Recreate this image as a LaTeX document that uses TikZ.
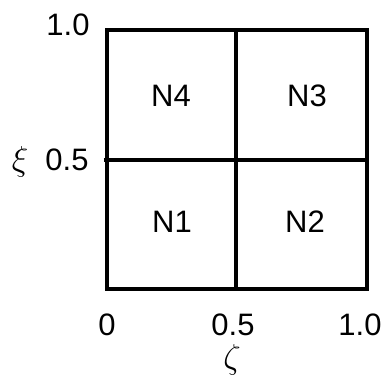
\documentclass[tikz,border=0pt]{standalone}
\usepackage{fontspec}
\setmainfont{Liberation Sans}
\begin{document}
\begin{tikzpicture}[x=0.5pt,y=-0.5pt,
  lab/.style={font=\fontsize{15.5}{17}\selectfont, inner sep=0pt},
  greek/.style={font=\fontsize{18}{20}\selectfont, inner sep=0pt},
  grid/.style={line width=1.6pt, line cap=rect}]
\useasboundingbox (0,0) rectangle (387,383);
\coordinate (bl) at (107,289);
\coordinate (tr) at (367,30);
\coordinate (mb) at (236,289);
\coordinate (mt) at (236,30);
\coordinate (ml) at (104,160);
\coordinate (mr) at (367,160);
\draw[grid] (bl) rectangle (tr);
\draw[grid] (mb) -- (mt);
\draw[line width=1.6pt] (ml) -- (mr);
\node[lab] (n4) at (171,96) {N4};
\node[lab] (n3) at (307,96) {N3};
\node[lab] (n1) at (172,222) {N1};
\node[lab] (n2) at (305,222) {N2};
\node[lab] (ytop) at (68,25) {1.0};
\node[lab] (ymid) at (67,160) {0.5};
\node[greek] (xi) at (20,162) {$\xi$};
\node[lab] (x0) at (107,325) {0};
\node[lab] (xmid) at (233,325) {0.5};
\node[lab] (xtop) at (360,325) {1.0};
\node[greek] (zeta) at (232,360) {$\zeta$};
\end{tikzpicture}
\end{document}
